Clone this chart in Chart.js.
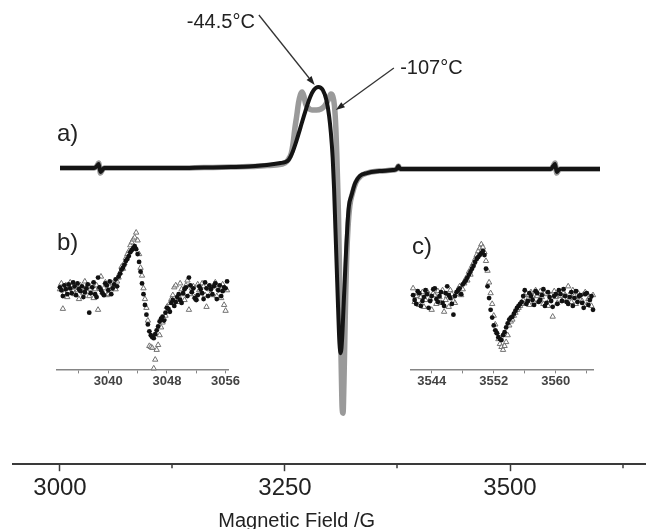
<!DOCTYPE html>
<html>
<head>
<meta charset="utf-8">
<script src="https://cdn.jsdelivr.net/npm/chart.js@4.4.1/dist/chart.umd.min.js"></script>
<style>
  html, body { margin: 0; padding: 0; background: #ffffff; overflow: hidden; }
  #wrap { position: relative; width: 646px; height: 529px; background: #ffffff; }
  #wrap canvas { position: absolute; }
  #main { left: 0; top: 0; }
  #insB { left: 40px; top: 210px; }
  #insC { left: 390px; top: 210px; }
</style>
</head>
<body>
<div id="wrap">
  <canvas id="main" width="646" height="529"></canvas>
  <canvas id="insB" width="210" height="190"></canvas>
  <canvas id="insC" width="230" height="190"></canvas>
</div>
<script>
// ---------------- DATA ----------------
const seriesNames = ['-44.5°C', '-107°C'];
const axisTitle = 'Magnetic Field /G';
const panelLabels = ['a)', 'b)', 'c)'];

// main axis ticks
const mainTicks = [3000, 3125, 3250, 3375, 3500, 3625];
const mainTickLabels = ['3000', '', '3250', '', '3500', ''];

// main spectrum, -44.5 °C (filled circles)
const fieldWarm = [3000, 3020, 3034, 3038, 3041, 3043, 3045, 3047, 3049, 3053,
  3070, 3100, 3130, 3160, 3190, 3210, 3230, 3245, 3250, 3254,
  3258, 3263, 3267, 3272, 3278, 3282, 3287, 3292, 3296, 3299,
  3301, 3303, 3304.5, 3306, 3307.5, 3309, 3310.5, 3312, 3313.5, 3315,
  3316.5, 3318, 3319.5, 3321, 3324, 3328, 3333, 3341, 3355, 3370,
  3374, 3376, 3378, 3390, 3420, 3450, 3480, 3510, 3535, 3545,
  3548, 3550, 3552, 3554, 3556, 3560, 3580, 3600];
const signalWarm = [0, 0, 0, 0, 2, 4, -4, -2, 0, 0,
  0, 0, 0, 0.5, 1, 1.5, 3, 5, 6, 8,
  15, 28, 40, 55, 71, 78, 81, 78, 68, 52,
  35, 10, -20, -60, -100, -140, -175, -185, -170, -140,
  -110, -80, -55, -38, -27, -15, -8, -5, -3, -2,
  -1, 2, -1, -1, -1, -1, -1, -1, -1, -1,
  2, 4, -4, -2, -1, -1, -1, -1];

// main spectrum, -107 °C (open triangles)
const fieldCold = [3000, 3020, 3034, 3038, 3041, 3043, 3045, 3047, 3049, 3053,
  3070, 3100, 3130, 3160, 3190, 3210, 3230, 3240, 3250, 3254,
  3257, 3259, 3261, 3263, 3265, 3267, 3269, 3271, 3273, 3276,
  3280, 3285, 3290, 3294, 3298, 3301, 3303, 3305, 3306.5, 3307.5,
  3308.5, 3309.5, 3310.5, 3311.5, 3312.5, 3313.5, 3314.5, 3315.5, 3316.5, 3317.5,
  3318.5, 3320, 3322, 3325, 3329, 3334, 3341, 3355, 3370, 3374,
  3376, 3378, 3390, 3420, 3450, 3480, 3510, 3535, 3545, 3548,
  3550, 3552, 3554, 3556, 3560, 3580, 3600];
const signalCold = [0, 0, 0, 0, 2, 5, -5, -2, 0, 0,
  0, 0, 0, 0.5, 1, 1.5, 2.5, 3, 5, 9,
  15, 25, 40, 52, 65, 73, 76, 72, 64, 60,
  58, 58, 59, 62, 68, 74, 72, 62, 40, 15,
  -15, -50, -100, -150, -200, -240, -245, -215, -170, -125,
  -90, -60, -38, -25, -14, -8, -5, -3, -2, -1,
  2, -1, -1, -1, -1, -1, -1, -1, -1, 2,
  5, -5, -2, -1, -1, -1, -1];

// inset b (low-field satellite)
const insetBTicks = [3036, 3040, 3044, 3048, 3052, 3056];
const insetBTickLabels = ['', '3040', '', '3048', '', '3056'];
const insetBField = [
  3033.4, 3033.6, 3033.8, 3034.0, 3034.2, 3034.4, 3034.6, 3034.8, 3035.0, 3035.2,
  3035.4, 3035.6, 3035.8, 3036.0, 3036.2, 3036.4, 3036.6, 3036.8, 3037.0, 3037.2,
  3037.4, 3037.6, 3037.8, 3038.0, 3038.2, 3038.4, 3038.6, 3038.8, 3039.0, 3039.2,
  3039.4, 3039.6, 3039.8, 3040.0, 3040.2, 3040.4, 3040.6, 3040.8, 3041.0, 3041.2,
  3041.4, 3041.6, 3041.8, 3042.0, 3042.2, 3042.4, 3042.6, 3042.8, 3043.0, 3043.2,
  3043.4, 3043.6, 3043.8, 3044.0, 3044.2, 3044.4, 3044.6, 3044.8, 3045.0, 3045.2,
  3045.4, 3045.6, 3045.8, 3046.0, 3046.2, 3046.4, 3046.6, 3046.8, 3047.0, 3047.2,
  3047.4, 3047.6, 3047.8, 3048.0, 3048.2, 3048.4, 3048.6, 3048.8, 3049.0, 3049.2,
  3049.4, 3049.6, 3049.8, 3050.0, 3050.2, 3050.4, 3050.6, 3050.8, 3051.0, 3051.2,
  3051.4, 3051.6, 3051.8, 3052.0, 3052.2, 3052.4, 3052.6, 3052.8, 3053.0, 3053.2,
  3053.4, 3053.6, 3053.8, 3054.0, 3054.2, 3054.4, 3054.6, 3054.8, 3055.0, 3055.2,
  3055.4, 3055.6, 3055.8, 3056.0, 3056.2];
const insetBWarm = [
  4, 1, -5, 6, 2, -3, 7, 3, -2, 9,
  5, -4, 8, 2, 0, 5, -6, -1, 3, 7,
  -22, -2, 4, 9, -3, -6, 14, 4, 1, -2,
  -4, 8, 6, 1, 10, -3, 3, 7, 12, 5,
  15, 18, 22, 24, 27, 31, 33, 36, 40, 42,
  44, 46, 43, 38, 30, 20, 8, -3, -14, -24,
  -34, -41, -45, -47, -48, -44, -40, -36, -31, -28,
  -26, -30, -22, -17, -18, -21, -12, -9, -15, -11,
  -6, -3, -9, -12, -2, 2, 4, -5, 14, 6,
  -1, 3, -7, -9, -4, 5, 2, -2, -8, 9,
  3, -5, 6, 2, -3, 5, 8, -8, 1, 6,
  -5, 0, 4, 3, 10];
const insetBCold = [
  2, 8, -18, -2, 6, -6, 3, 9, 5, 0,
  -3, 4, 1, -8, 6, 3, -2, 10, 4, -1,
  -5, 2, 7, -7, 2, 6, -19, 3, 15, -1,
  3, 9, -4, -3, 5, 2, 8, 6, 2, 10,
  14, 19, 25, 23, 29, 34, 38, 41, 47, 50,
  53, 55, 60, 52, 38, 24, 16, 3, -8, -17,
  -30, -56, -57, -58, -79, -70, -60, -55, -45, -37,
  -32, -28, -25, -16, -20, -12, -8, -4, 4, 6,
  -11, -5, 8, 2, -3, -9, 6, 11, -19, -3,
  3, 5, -6, -8, 7, 1, -2, 8, 5, -4,
  -16, 4, 2, -2, -4, 6, 9, -5, 3, 2,
  -7, 7, -14, -20, 1];

// inset c (high-field satellite)
const insetCTicks = [3544, 3548, 3552, 3556, 3560, 3564];
const insetCTickLabels = ['3544', '', '3552', '', '3560', ''];
const insetCField = [
  3541.6, 3541.8, 3542.0, 3542.2, 3542.4, 3542.6, 3542.8, 3543.0, 3543.2, 3543.4,
  3543.6, 3543.8, 3544.0, 3544.2, 3544.4, 3544.6, 3544.8, 3545.0, 3545.2, 3545.4,
  3545.6, 3545.8, 3546.0, 3546.2, 3546.4, 3546.6, 3546.8, 3547.0, 3547.2, 3547.4,
  3547.6, 3547.8, 3548.0, 3548.2, 3548.4, 3548.6, 3548.8, 3549.0, 3549.2, 3549.4,
  3549.6, 3549.8, 3550.0, 3550.2, 3550.4, 3550.6, 3550.8, 3551.0, 3551.2, 3551.4,
  3551.6, 3551.8, 3552.0, 3552.2, 3552.4, 3552.6, 3552.8, 3553.0, 3553.2, 3553.4,
  3553.6, 3553.8, 3554.0, 3554.2, 3554.4, 3554.6, 3554.8, 3555.0, 3555.2, 3555.4,
  3555.6, 3555.8, 3556.0, 3556.2, 3556.4, 3556.6, 3556.8, 3557.0, 3557.2, 3557.4,
  3557.6, 3557.8, 3558.0, 3558.2, 3558.4, 3558.6, 3558.8, 3559.0, 3559.2, 3559.4,
  3559.6, 3559.8, 3560.0, 3560.2, 3560.4, 3560.6, 3560.8, 3561.0, 3561.2, 3561.4,
  3561.6, 3561.8, 3562.0, 3562.2, 3562.4, 3562.6, 3562.8, 3563.0, 3563.2, 3563.4,
  3563.6, 3563.8, 3564.0, 3564.2, 3564.4, 3564.6, 3564.8];
const insetCWarm = [
  3, -2, -6, 7, 5, -8, -3, 1, 8, 4,
  -10, -3, 2, 9, 10, -1, -4, 2, 6, -5,
  -8, 5, 12, 3, 0, -6, -17, 2, 6, 8,
  10, 4, 14, 16, 18, 21, 24, 27, 30, 33,
  37, 40, 42, 44, 46, 48, 44, 30, 12, 0,
  -12, -20, -28, -33, -36, -40, -42, -43, -38, -35,
  -30, -26, -22, -20, -19, -16, -13, -10, -8, -6,
  -4, 2, 8, -6, -3, 5, 2, -2, -7, 7,
  5, -4, -2, 3, 9, -8, -5, 6, 1, -3,
  -9, 2, 4, -6, 8, 4, -3, 9, 2, -4,
  -6, 1, 6, -8, 0, 7, -4, 2, 3, -5,
  -10, 4, 5, -7, -2, 2, -12];
const insetCCold = [
  10, -4, 2, 5, -7, 1, 6, -9, -2, 7,
  4, -1, -12, 5, 3, -6, 7, 1, -5, 8,
  -14, -2, 2, -9, 8, 4, -3, -5, 4, 7,
  12, 3, 9, 15, 20, 18, 27, 24, 33, 36,
  40, 44, 48, 51, 55, 52, 47, 38, 28, 16,
  5, -6, -18, -27, -35, -42, -47, -50, -53, -49,
  -45, -38, -28, -24, -22, -18, -15, -12, -10, -8,
  -6, -2, 3, 5, -1, -7, 6, 2, -4, 8,
  2, -3, 7, 1, -6, 5, 4, -8, -2, 3,
  -19, 7, 1, -5, 5, 2, -3, 6, 3, -2,
  12, 4, -4, 8, 2, -6, 6, 1, -2, -3,
  4, 6, -7, -1, 1, -8, 3];

// ---------------- STYLE / LAYOUT ----------------
const FONT = '"Liberation Sans", Arial, Helvetica, sans-serif';
const AXIS = '#3a3a3a';
const toXY = (xs, ys) => xs.map((v, i) => ({ x: v, y: ys[i] }));

// annotation placement (in data units of main chart)
const notes = [
  { text: seriesNames[0], at: [3216.5, 146], align: 'right', from: [3221, 153], to: [3283, 83] },
  { text: seriesNames[1], at: [3378, 100], align: 'left', from: [3371, 100], to: [3306.5, 58] }
];
const panelPos = [[2996.7, 34], [2996.7, -75.5], [3391, -79.5]];

function arrow(ctx, x1, y1, x2, y2) {
  const a = Math.atan2(y2 - y1, x2 - x1), L = 9, W = 3.2;
  ctx.beginPath(); ctx.moveTo(x1, y1);
  ctx.lineTo(x2 - L * Math.cos(a), y2 - L * Math.sin(a)); ctx.stroke();
  ctx.beginPath(); ctx.moveTo(x2, y2);
  ctx.lineTo(x2 - L * Math.cos(a) + W * Math.sin(a), y2 - L * Math.sin(a) - W * Math.cos(a));
  ctx.lineTo(x2 - L * Math.cos(a) - W * Math.sin(a), y2 - L * Math.sin(a) + W * Math.cos(a));
  ctx.closePath(); ctx.fill();
}

const decor = {
  id: 'decor',
  afterDraw(chart) {
    const { ctx, chartArea } = chart;
    const x = chart.scales.x, y = chart.scales.y;
    ctx.save();
    ctx.strokeStyle = AXIS; ctx.lineWidth = 1.5;
    mainTicks.forEach((v, i) => {
      if (!mainTickLabels[i]) {
        const px = Math.round(x.getPixelForValue(v));
        ctx.beginPath(); ctx.moveTo(px, chartArea.bottom); ctx.lineTo(px, chartArea.bottom + 4); ctx.stroke();
      }
    });
    ctx.fillStyle = '#222';
    ctx.font = '20px ' + FONT;
    ctx.textAlign = 'center'; ctx.textBaseline = 'middle';
    ctx.fillText(axisTitle, x.getPixelForValue(3263), chartArea.bottom + 57);
    ctx.font = '24px ' + FONT; ctx.textAlign = 'left';
    panelLabels.forEach((t, i) => ctx.fillText(t, x.getPixelForValue(panelPos[i][0]), y.getPixelForValue(panelPos[i][1])));
    ctx.font = '20px ' + FONT;
    ctx.strokeStyle = '#333'; ctx.fillStyle = '#222'; ctx.lineWidth = 1.3;
    notes.forEach(n => {
      ctx.textAlign = n.align;
      ctx.fillText(n.text, x.getPixelForValue(n.at[0]), y.getPixelForValue(n.at[1]));
      arrow(ctx, x.getPixelForValue(n.from[0]), y.getPixelForValue(n.from[1]),
                 x.getPixelForValue(n.to[0]), y.getPixelForValue(n.to[1]));
    });
    ctx.restore();
  }
};

new Chart(document.getElementById('main'), {
  type: 'scatter',
  data: {
    datasets: [
      { label: seriesNames[0], data: toXY(fieldWarm, signalWarm), showLine: true,
        borderColor: '#141414', borderWidth: 4, pointRadius: 0, cubicInterpolationMode: 'monotone', order: 0 },
      { label: seriesNames[1], data: toXY(fieldCold, signalCold), showLine: true,
        borderColor: '#9a9a9a', borderWidth: 5.5, pointRadius: 0, cubicInterpolationMode: 'monotone', order: 1 }
    ]
  },
  options: {
    responsive: false, animation: false, events: [],
    layout: { padding: { left: 13, right: 0, top: 0, bottom: 23 } },
    plugins: { legend: { display: false }, tooltip: { enabled: false } },
    scales: {
      x: {
        type: 'linear', min: 2947.8, max: 3651.1,
        afterBuildTicks: s => { s.ticks = mainTicks.map(v => ({ value: v })); },
        border: { display: true, color: AXIS, width: 2 },
        grid: { display: true, drawOnChartArea: false, drawTicks: true, tickLength: 7, tickWidth: 1.5,
                tickColor: c => (mainTickLabels[c.index] ? AXIS : 'rgba(0,0,0,0)') },
        ticks: { autoSkip: false, maxRotation: 0, padding: 3, color: '#222', font: { family: FONT, size: 24 },
                 callback: (v, i) => mainTickLabels[i] }
      },
      y: { display: false, min: -296, max: 168 }
    }
  },
  plugins: [decor]
});

function insetChart(id, fields, warm, cold, ticks, labels, xmin, xmax, ymin, ymax, pad) {
  return new Chart(document.getElementById(id), {
    type: 'scatter',
    data: {
      datasets: [
        { label: seriesNames[0], data: toXY(fields, warm), pointStyle: 'circle', pointRadius: 2.4,
          backgroundColor: '#111', borderColor: '#111', borderWidth: 0, order: 0, clip: false },
        { label: seriesNames[1], data: toXY(fields, cold), pointStyle: 'triangle', pointRadius: 3.1,
          backgroundColor: 'rgba(255,255,255,0.6)', borderColor: '#727272', borderWidth: 1, order: 1, clip: false }
      ]
    },
    options: {
      responsive: false, animation: false, events: [],
      layout: { padding: pad },
      plugins: { legend: { display: false }, tooltip: { enabled: false } },
      scales: {
        x: {
          type: 'linear', min: xmin, max: xmax,
          afterBuildTicks: s => { s.ticks = ticks.map(v => ({ value: v })); },
          border: { display: true, color: '#858585', width: 1.5 },
          grid: { display: true, drawOnChartArea: false, tickLength: 4, tickWidth: 1, tickColor: '#858585' },
          ticks: { autoSkip: false, maxRotation: 0, padding: 0, color: '#444',
                   font: { family: FONT, size: 13, weight: 'bold' }, callback: (v, i) => labels[i] }
        },
        y: { display: false, min: ymin, max: ymax }
      }
    }
  });
}

insetChart('insB', insetBField, insetBWarm, insetBCold, insetBTicks, insetBTickLabels,
  3033.0, 3056.33, -80, 78, { left: 17, right: 22, top: 0, bottom: 11 });
insetChart('insC', insetCField, insetCWarm, insetCCold, insetCTicks, insetCTickLabels,
  3541.33, 3564.8, -73, 85, { left: 21, right: 27, top: 0, bottom: 11 });
</script>
</body>
</html>
